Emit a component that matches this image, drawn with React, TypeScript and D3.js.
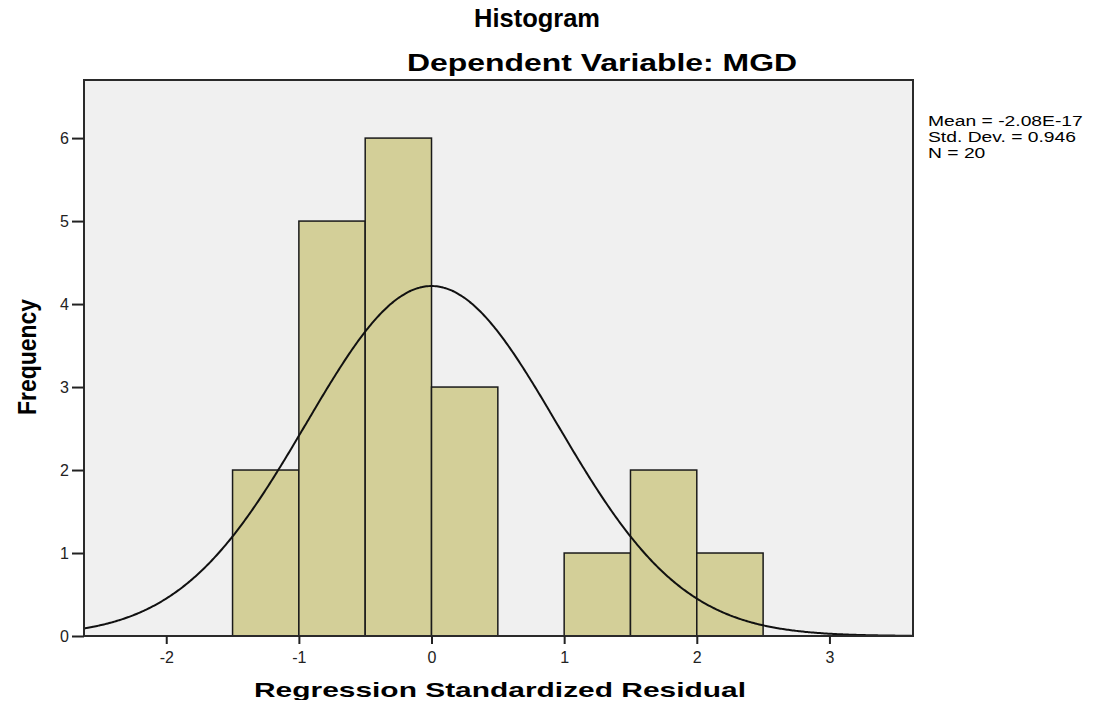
import React, { useEffect, useRef } from "react";
import * as d3 from "d3";

// histogram bins (lower edge, width 0.5) and their counts
const binStarts = [-1.5, -1.0, -0.5, 0.0, 0.5, 1.0, 1.5, 2.0];
const binCounts = [2, 5, 6, 3, 0, 1, 2, 1];
const binWidth = 0.5;

// summary stats shown at the right
const mean = -2.08e-17;
const stdDev = 0.946;
const n = 20;
const statLines = ["Mean = -2.08E-17", "Std. Dev. = 0.946", "N = 20"];

const xTicks = [-2, -1, 0, 1, 2, 3];
const yTicks = [0, 1, 2, 3, 4, 5, 6];

const App = () => {
  const svgRef = useRef<SVGSVGElement>(null);

  useEffect(() => {
    const width = 1097,
      height = 704;
    const left = 84,
      right = 913,
      top = 80,
      bottom = 636;

    const barFill = "#d3cf98",
      plotBg = "#f0f0f0",
      ink = "#000";
    const font = "Liberation Sans, Arial, sans-serif";

    const svg = d3.select(svgRef.current).attr("width", width).attr("height", height).html("");

    svg.append("rect").attr("width", width).attr("height", height).attr("fill", "#fff");

    const x = d3.scaleLinear().domain([-2.62, 3.63]).range([left, right]);
    const y = d3.scaleLinear().domain([0, 6.7]).range([bottom, top]);

    // plot background
    svg
      .append("rect")
      .attr("x", left)
      .attr("y", top)
      .attr("width", right - left)
      .attr("height", bottom - top)
      .attr("fill", plotBg);

    // bars
    svg
      .append("g")
      .selectAll("rect")
      .data(binStarts.map((s, i) => ({ s, c: binCounts[i] })).filter((d) => d.c > 0))
      .enter()
      .append("rect")
      .attr("x", (d) => x(d.s))
      .attr("y", (d) => y(d.c))
      .attr("width", (d) => x(d.s + binWidth) - x(d.s))
      .attr("height", (d) => y(0) - y(d.c))
      .attr("fill", barFill)
      .attr("stroke", "#1a1a1a")
      .attr("stroke-width", 1.5);

    // normal curve scaled to counts
    const scale = n * binWidth;
    const pts = d3.range(-2.62, 3.63, 0.01).map((v) => [
      v,
      (scale / (stdDev * Math.sqrt(2 * Math.PI))) * Math.exp(-0.5 * ((v - mean) / stdDev) ** 2),
    ]);
    svg
      .append("path")
      .attr(
        "d",
        d3
          .line()
          .x((d) => x(d[0]))
          .y((d) => y(d[1]))
          .curve(d3.curveBasis)(pts as [number, number][])
      )
      .attr("fill", "none")
      .attr("stroke", "#111")
      .attr("stroke-width", 2);

    // frame
    svg
      .append("rect")
      .attr("x", left)
      .attr("y", top)
      .attr("width", right - left)
      .attr("height", bottom - top)
      .attr("fill", "none")
      .attr("stroke", "#2a2a2a")
      .attr("stroke-width", 2);

    // axes
    const xAxis = svg
      .append("g")
      .attr("transform", `translate(0,${bottom})`)
      .call(d3.axisBottom(x).tickValues(xTicks).tickSize(8).tickSizeOuter(0).tickFormat((d) => String(d)));
    xAxis.select(".domain").remove();
    xAxis.selectAll("line").attr("stroke", "#222").attr("stroke-width", 2);
    xAxis
      .selectAll("text")
      .attr("font-family", font)
      .attr("font-size", 16)
      .attr("fill", "#222")
      .attr("dy", "1.0em");

    const yAxis = svg
      .append("g")
      .attr("transform", `translate(${left},0)`)
      .call(d3.axisLeft(y).tickValues(yTicks).tickSize(12).tickSizeOuter(0).tickFormat((d) => String(d)));
    yAxis.select(".domain").remove();
    yAxis.selectAll("line").attr("stroke", "#222").attr("stroke-width", 2);
    yAxis
      .selectAll("text")
      .attr("font-family", font)
      .attr("font-size", 16)
      .attr("fill", "#222")
      .attr("x", -15);

    // titles
    svg
      .append("text")
      .attr("x", 537)
      .attr("y", 27)
      .attr("text-anchor", "middle")
      .attr("font-family", font)
      .attr("font-weight", "bold")
      .attr("font-size", 25)
      .attr("textLength", 126)
      .attr("lengthAdjust", "spacingAndGlyphs")
      .text("Histogram");
    svg
      .append("text")
      .attr("x", 602)
      .attr("y", 71)
      .attr("text-anchor", "middle")
      .attr("font-family", font)
      .attr("font-weight", "bold")
      .attr("font-size", 24)
      .attr("textLength", 390)
      .attr("lengthAdjust", "spacingAndGlyphs")
      .text("Dependent Variable: MGD");

    // axis titles
    svg
      .append("text")
      .attr("transform", `translate(36,357) rotate(-90)`)
      .attr("text-anchor", "middle")
      .attr("font-family", font)
      .attr("font-weight", "bold")
      .attr("font-size", 25)
      .attr("textLength", 116)
      .attr("lengthAdjust", "spacingAndGlyphs")
      .text("Frequency");
    svg
      .append("text")
      .attr("x", 500)
      .attr("y", 697)
      .attr("text-anchor", "middle")
      .attr("font-family", font)
      .attr("font-weight", "bold")
      .attr("font-size", 21)
      .attr("textLength", 492)
      .attr("lengthAdjust", "spacingAndGlyphs")
      .text("Regression Standardized Residual");

    // stats (glyphs are stretched wide in the source)
    svg
      .append("g")
      .attr("transform", "translate(928,0) scale(1.33,1)")
      .selectAll("text")
      .data(statLines)
      .enter()
      .append("text")
      .attr("x", 0)
      .attr("y", (_, i) => 126 + i * 16)
      .attr("font-family", font)
      .attr("font-size", 14.5)
      .attr("fill", ink)
      .text((d) => d);
  }, []);

  return (
    <div style={{ margin: -8 }}>
      <svg ref={svgRef}></svg>
    </div>
  );
};

export default App;
